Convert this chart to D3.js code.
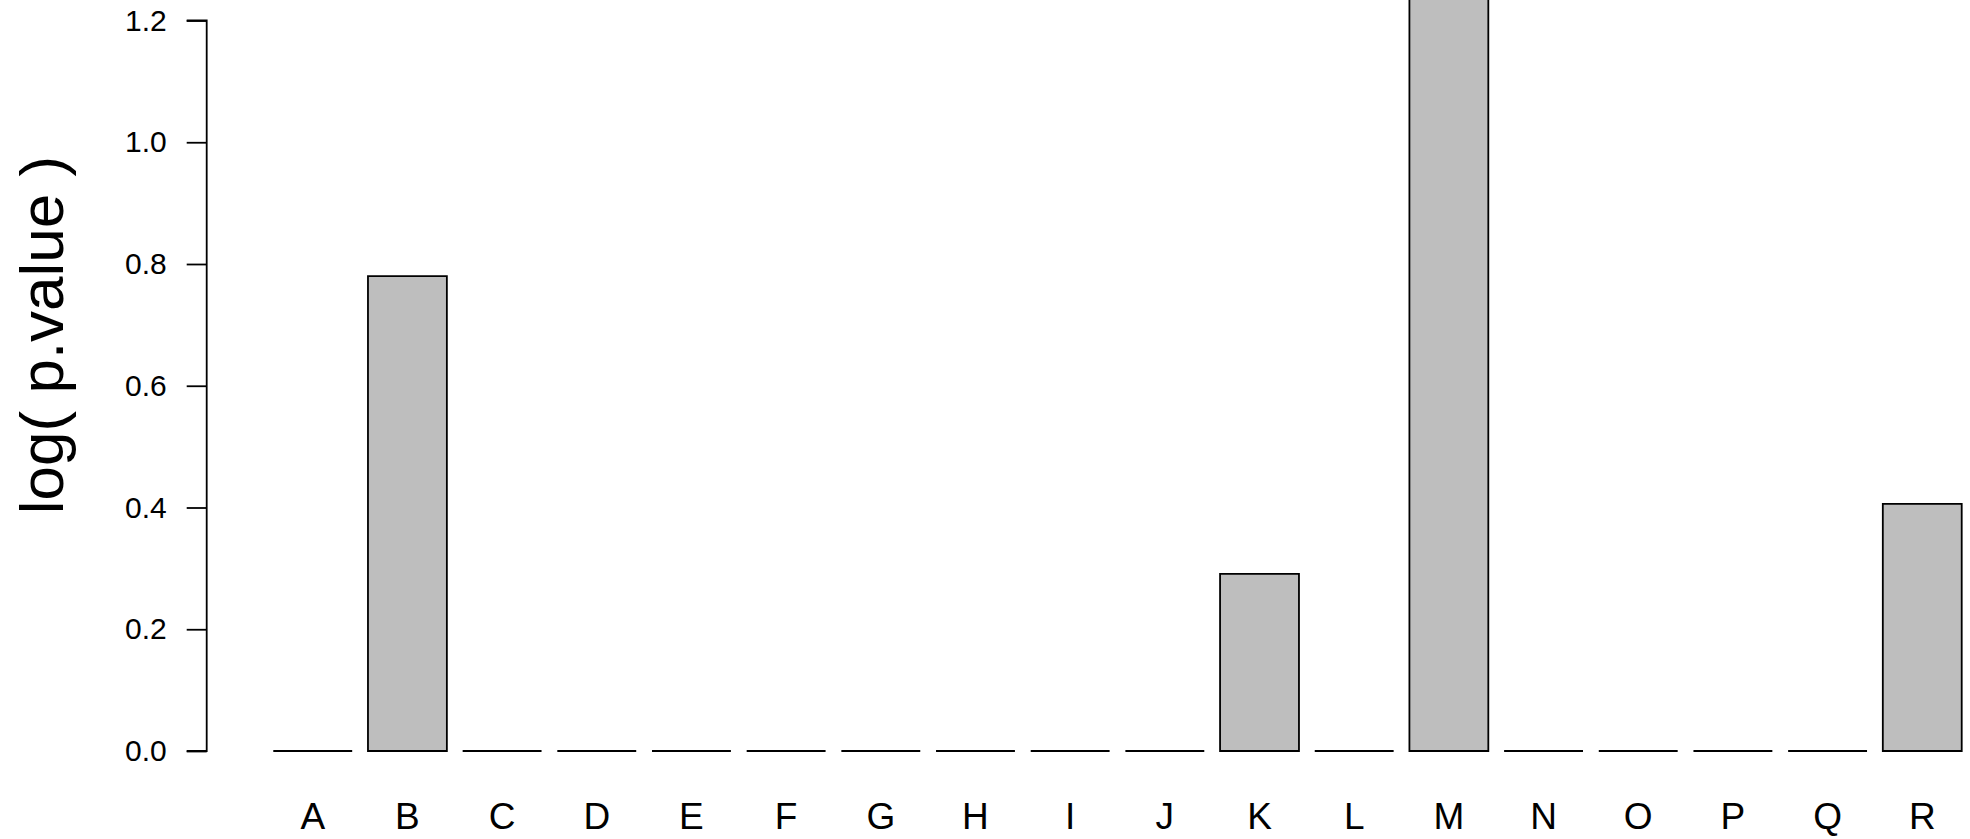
<!DOCTYPE html>
<html>
<head>
<meta charset="utf-8">
<script src="https://cdn.jsdelivr.net/npm/d3@7"></script>
<style>
  body { margin: 0; background: #fff; }
  svg { display: block; font-family: "Liberation Sans", Arial, Helvetica, sans-serif; }
</style>
</head>
<body>
<svg id="chart"></svg>
<script>
const WIDTH = 1970
const HEIGHT = 839

// values (M runs off the top of the figure)
const categories = ['A', 'B', 'C', 'D', 'E', 'F', 'G', 'H', 'I', 'J', 'K', 'L', 'M', 'N', 'O', 'P', 'Q', 'R'];
const pValues = [0, 0.78, 0, 0, 0, 0, 0, 0, 0, 0, 0.291, 0, 1.35, 0, 0, 0, 0, 0.406];
const yTicks = [0, 0.2, 0.4, 0.6, 0.8, 1.0, 1.2];

const svg = d3.select('#chart')
    .attr('width', WIDTH)
    .attr('height', HEIGHT);

const xScale = d3.scaleBand()
    .domain(categories)
    .range([265.4, 1969.6])
    .paddingInner(1 / 6)
    .paddingOuter(1 / 12);

const yScale = d3.scaleLinear()
    .domain([0, 1.2])
    .range([751, 20.5]);

// bars as paths so that zero bars still show their outline
svg.append('g')
    .selectAll('path')
    .data(categories)
    .join('path')
    .attr('d', (d, i) => {
        let x0 = xScale(d);
        let x1 = x0 + xScale.bandwidth();
        let y0 = yScale(0);
        let y1 = yScale(pValues[i]);
        return `M${x0},${y0}V${y1}H${x1}V${y0}Z`;
    })
    .attr('fill', '#bebebe')
    .attr('stroke', '#000')
    .attr('stroke-width', 1.8);

// y axis, R style
const yAxis = svg.append('g')
    .attr('transform', 'translate(206.7,0)')
    .call(d3.axisLeft(yScale).tickValues(yTicks).tickFormat(d3.format('.1f')).tickSize(20).tickPadding(20));

yAxis.select('.domain')
    .attr('d', `M-20,${yScale(0)}H0V${yScale(1.2)}H-20`)
    .attr('stroke-width', 1.8);
yAxis.selectAll('.tick line').attr('stroke-width', 1.8);
yAxis.selectAll('.tick text')
    .attr('font-size', 30)
    .attr('font-family', '"Liberation Sans", Arial, sans-serif')
    .attr('fill', '#000');

// category labels
svg.append('g')
    .selectAll('text')
    .data(categories)
    .join('text')
    .text((d) => d)
    .attr('x', (d) => xScale(d) + xScale.bandwidth() / 2)
    .attr('y', 829)
    .attr('text-anchor', 'middle')
    .attr('font-size', 37);

// y axis title
svg.append('text')
    .text('log( p.value )')
    .attr('transform', 'translate(63,335) rotate(-90)')
    .attr('text-anchor', 'middle')
    .attr('font-size', 62);
</script>
</body>
</html>
